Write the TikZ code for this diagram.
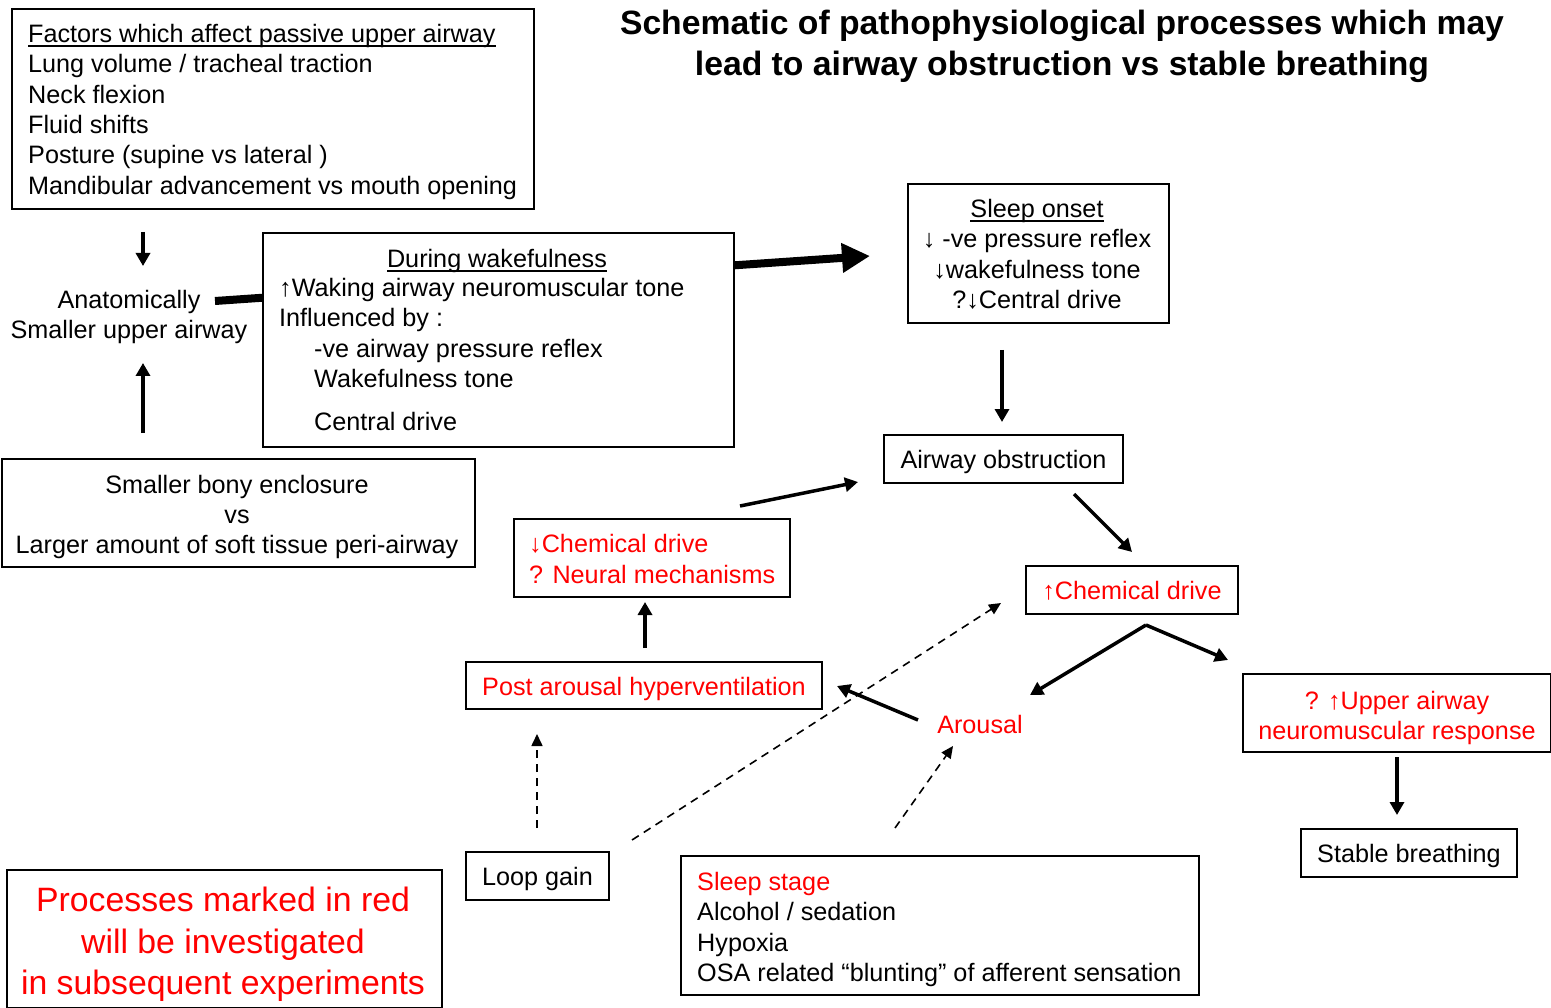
\documentclass[tikz,border=0pt]{standalone}
\usepackage{fontspec}
\setmainfont{Liberation Sans}
\usetikzlibrary{arrows.meta}
\definecolor{pred}{RGB}{255,0,0}
\newcommand\fs{\fontsize{25.2}{30}\selectfont}
\newcommand\fb{\fontsize{33.7}{41}\selectfont}
\newcommand\fn{\fontsize{33.8}{41}\selectfont}
\newcommand\myul[1]{\leavevmode\setbox0\hbox{#1}\rlap{\vrule height -2.5pt depth 4pt width \wd0}\box0}
\tikzset{
  box/.style={draw, line width=2pt, fill=white, inner sep=0pt, anchor=north west, font=\fs, text height=19pt, text depth=0pt},
  tl/.style={font=\fs, inner sep=0pt, anchor=base west},
  tcn/.style={font=\fs, inner sep=0pt, anchor=base},
  arr/.style={line width=3.5pt, -{Triangle[length=13pt,width=14pt]}},
  bigarr/.style={line width=8pt, -{Triangle[length=28pt,width=28pt]}},
  darr/.style={line width=1.6pt, dash pattern=on 8pt off 6pt, -{Triangle[length=12pt,width=11pt]}},
}
\begin{document}
\begin{tikzpicture}[x=1pt,y=-1pt]
\useasboundingbox (0,0) rectangle (1551,1008);

% title
\node[font=\fb\bfseries, inner sep=0pt, anchor=base] (title1) at (1062,35) {Schematic of pathophysiological processes which may};
\node[font=\fb\bfseries, inner sep=0pt, anchor=base] (title2) at (1062,76) {lead to airway obstruction vs stable breathing};

% factors box
\node[box, minimum width=522pt, minimum height=200pt] (fac) at (11,8) {};
\node[tl] (fac1) at (28,43) {\myul{Factors which affect passive upper airway}};
\node[tl] (fac2) at (28,73) {Lung volume / tracheal traction};
\node[tl] (fac3) at (28,104) {Neck flexion};
\node[tl] (fac4) at (28,134) {Fluid shifts};
\node[tl] (fac5) at (28,164) {Posture (supine vs lateral )};
\node[tl] (fac6) at (28,195) {Mandibular advancement vs mouth opening};

% anatomically
\node[tcn] (anat1) at (129,309) {Anatomically};
\node[tcn] (anat2) at (129,339) {Smaller upper airway};

% sleep onset box
\node[box, minimum width=261pt, minimum height=139pt] (sleep) at (907,183) {};
\node[tcn] (sl1) at (1037,218) {\myul{Sleep onset}};
\node[tcn] (sl2) at (1037,248) {\char"2193\ -ve pressure reflex};
\node[tcn] (sl3) at (1037,279) {\char"2193 wakefulness tone};
\node[tcn] (sl4) at (1037,309) {?\char"2193 Central drive};

% big arrow (behind wake box)
\coordinate (bigS) at (215,301);
\coordinate (bigE) at (870,256);
\draw[bigarr] (bigS) -- (bigE);

% wakefulness box
\node[box, minimum width=471pt, minimum height=214pt] (wake) at (262,232) {};
\node[tcn] (wk1) at (497,268) {\myul{During wakefulness}};
\node[tl] (wk2) at (279,297) {\char"2191 Waking airway neuromuscular tone};
\node[tl] (wk3) at (279,327) {Influenced by :};
\node[tl] (wk4) at (314,358) {-ve airway pressure reflex};
\node[tl] (wk5) at (314,388) {Wakefulness tone};
\node[tl] (wk6) at (314,430) {Central drive};

% bony box
\node[box, minimum width=473pt, minimum height=108pt] (bony) at (1,458) {};
\node[tcn] (bn1) at (237,493) {Smaller bony enclosure};
\node[tcn] (bn2) at (237,523) {vs};
\node[tcn] (bn3) at (237,553) {Larger amount of soft tissue peri-airway};

% airway obstruction
\node[box, minimum width=239pt, minimum height=48pt] (obs) at (883,434) {Airway obstruction};

% chemical drive down
\node[box, minimum width=276pt, minimum height=78pt] (chdn) at (513,518) {};
\node[tl, text=pred] (cd1) at (529,552) {\char"2193 Chemical drive};
\node[tl, text=pred] (cd2) at (529,583) {? Neural mechanisms};

% chemical drive up
\node[box, minimum width=212pt, minimum height=48pt, text=pred] (chup) at (1025,565) {\char"2191 Chemical drive};

% post arousal
\node[box, minimum width=356pt, minimum height=47pt, text=pred] (post) at (465,661) {Post arousal hyperventilation};

% arousal
\node[tcn, text=pred] (arousal) at (980,733) {Arousal};

% upper airway response
\node[box, minimum width=308pt, minimum height=78pt] (upper) at (1242,673) {};
\node[tcn, text=pred] (up1) at (1397,709) {? \char"2191 Upper airway};
\node[tcn, text=pred] (up2) at (1397,739) {neuromuscular response};

% stable breathing
\node[box, minimum width=216pt, minimum height=48pt] (stable) at (1300,828) {Stable breathing};

% loop gain
\node[box, minimum width=143pt, minimum height=48pt] (loop) at (465,851) {Loop gain};

% sleep stage box
\node[box, minimum width=518pt, minimum height=139pt] (stage) at (680,855) {};
\node[tl, text=pred] (st1) at (697,890) {Sleep stage};
\node[tl] (st2) at (697,920) {Alcohol / sedation};
\node[tl] (st3) at (697,951) {Hypoxia};
\node[tl] (st4) at (697,981) {OSA related \char"201C blunting\char"201D\ of afferent sensation};

% note box
\node[box, minimum width=435pt, minimum height=138pt] (note) at (6,869) {};
\node[font=\fn, text=pred, inner sep=0pt, anchor=base] (nt1) at (223,911) {Processes marked in red};
\node[font=\fn, text=pred, inner sep=0pt, anchor=base] (nt2) at (223,953) {will be investigated};
\node[font=\fn, text=pred, inner sep=0pt, anchor=base] (nt3) at (223,994) {in subsequent experiments};

% connector end points
\coordinate (a1s) at (143,232); \coordinate (a1e) at (143,266);
\coordinate (a2s) at (143,433); \coordinate (a2e) at (143,363);
\coordinate (a3s) at (1002,350); \coordinate (a3e) at (1002,422);
\coordinate (a4s) at (740,506); \coordinate (a4e) at (858,482);
\coordinate (a5s) at (1074,494); \coordinate (a5e) at (1132,552);
\coordinate (split) at (1146,625);
\coordinate (a6e) at (1030,695); \coordinate (a7e) at (1228,660);
\coordinate (a8s) at (1397,757); \coordinate (a8e) at (1397,815);
\coordinate (a9s) at (918,720); \coordinate (a9e) at (837,686);
\coordinate (a10s) at (645,648); \coordinate (a10e) at (645,602);
\coordinate (d1s) at (537,828); \coordinate (d1e) at (537,734);
\coordinate (d2s) at (632,840); \coordinate (d2e) at (1001,603);
\coordinate (d3s) at (895,828); \coordinate (d3e) at (953,746);

\draw[arr] (a1s) -- (a1e);
\draw[arr] (a2s) -- (a2e);
\draw[arr] (a3s) -- (a3e);
\draw[arr] (a4s) -- (a4e);
\draw[arr] (a5s) -- (a5e);
\draw[arr] (split) -- (a6e);
\draw[arr] (split) -- (a7e);
\draw[arr] (a8s) -- (a8e);
\draw[arr] (a9s) -- (a9e);
\draw[arr] (a10s) -- (a10e);
\draw[darr] (d1s) -- (d1e);
\draw[darr] (d2s) -- (d2e);
\draw[darr] (d3s) -- (d3e);
\end{tikzpicture}
\end{document}
